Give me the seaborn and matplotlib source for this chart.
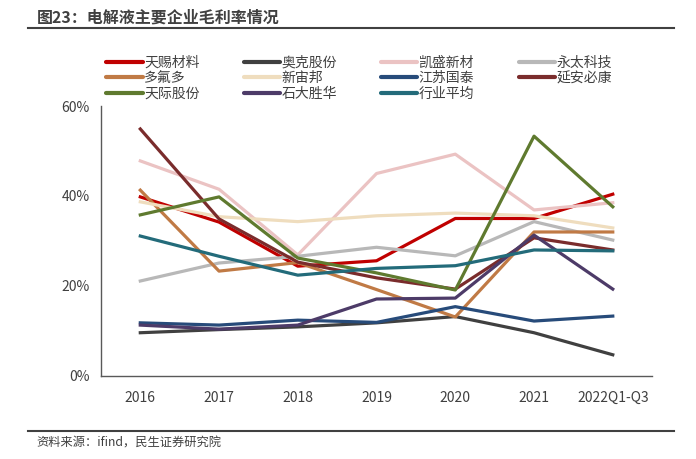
import matplotlib
matplotlib.use("Agg")
import matplotlib.pyplot as plt
import seaborn as sns
import pandas as pd
from matplotlib.lines import Line2D

years = ["2016", "2017", "2018", "2019", "2020", "2021", "2022Q1-Q3"]
companies = ["天赐材料", "奥克股份", "凯盛新材", "永太科技", "多氟多", "新宙邦",
             "江苏国泰", "延安必康", "天际股份", "石大胜华", "行业平均"]

tinci = [39.8, 34.2, 24.4, 25.6, 35.0, 35.0, 40.4]
aoke = [9.6, 10.3, 10.9, 11.8, 13.2, 9.6, 4.7]
kaisheng = [47.8, 41.5, 26.9, 45.0, 49.3, 36.9, 38.5]
yongtai = [21.1, 25.1, 26.6, 28.6, 26.7, 34.3, 30.2]
duofuduo = [41.3, 23.3, 25.2, 19.2, 13.1, 32.0, 32.0]
xinzhoubang = [38.7, 35.4, 34.3, 35.6, 36.2, 35.6, 32.9]
guotai = [11.8, 11.3, 12.4, 11.9, 15.4, 12.2, 13.3]
yanan = [54.9, 34.9, 25.3, 21.8, 19.3, 30.7, 28.0]
tianji = [35.8, 39.8, 26.2, 22.9, 19.1, 53.3, 37.6]
shida = [11.3, 10.4, 11.3, 17.1, 17.3, 31.3, 19.3]
average = [31.1, 26.6, 22.4, 23.9, 24.5, 28.0, 27.8]

series = [tinci, aoke, kaisheng, yongtai, duofuduo, xinzhoubang,
          guotai, yanan, tianji, shida, average]
colors = ["#C00000", "#404040", "#EBC3C3", "#B8B8B8", "#C07A45", "#EFDDBE",
          "#274B7A", "#7A2C2C", "#5F7A2F", "#4D3B68", "#236B7A"]

plt.rcParams['font.family'] = ['Noto Sans CJK SC', 'DejaVu Sans']

rows = []
for name, vals in zip(companies, series):
    for i, (y, v) in enumerate(zip(years, vals)):
        rows.append({"x": i, "year": y, "company": name, "value": v})
df = pd.DataFrame(rows)

fig = plt.figure(figsize=(6.96, 4.59), dpi=100)
ax = fig.add_axes([0.145, 0.181, 0.792, 0.588])
sns.lineplot(data=df, x="x", y="value", hue="company", hue_order=companies,
             palette=colors, linewidth=2.3, ax=ax, legend=False, sort=False)

ax.set_xlim(-0.5, 6.5)
ax.set_ylim(0, 60)
ax.set_xticks(range(len(years)))
ax.set_xticklabels(years)
ax.set_yticks([0, 20, 40, 60])
ax.set_yticklabels(["0%", "20%", "40%", "60%"])
ax.tick_params(axis="both", length=0, labelsize=10, colors="#404040", pad=8)
ax.tick_params(axis="x", pad=11)
ax.set_xlabel("")
ax.set_ylabel("")
for s in ["top", "right"]:
    ax.spines[s].set_visible(False)
for s in ["left", "bottom"]:
    ax.spines[s].set_color("#595959")
    ax.spines[s].set_linewidth(1.0)

handles = [Line2D([0], [0], color=c, lw=3, solid_capstyle="round") for c in colors]
order = [0, 4, 8, 1, 5, 9, 2, 6, 10, 3, 7]
leg = fig.legend([handles[i] for i in order], [companies[i] for i in order],
                 ncol=4, loc="upper left", bbox_to_anchor=(0.145, 0.891),
                 frameon=False, fontsize=10, handlelength=2.6, handletextpad=0.1,
                 columnspacing=3.2, labelspacing=0.12, borderaxespad=0)
for t in leg.get_texts():
    t.set_color("#404040")

fig.text(0.053, 0.962, "图23：电解液主要企业毛利率情况", fontsize=11.5,
         fontweight="bold", color="#404040", va="center", ha="left")
fig.add_artist(Line2D([0.04, 0.968], [0.94, 0.94], color="#404040", lw=1.5))
fig.add_artist(Line2D([0.04, 0.968], [0.061, 0.061], color="#404040", lw=1.5))
fig.text(0.052, 0.035, "资料来源：ifind，民生证券研究院", fontsize=8.8,
         color="#404040", va="center", ha="left")

fig.savefig("out.png", dpi=100)
